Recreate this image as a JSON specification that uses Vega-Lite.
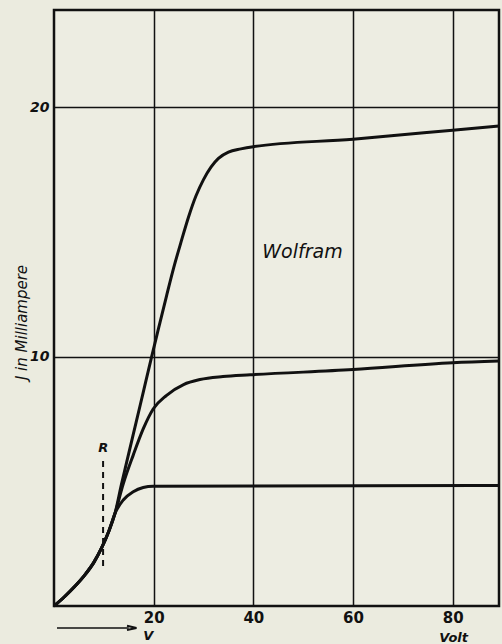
{
  "$schema": "https://vega.github.io/schema/vega-lite/v6.json",
  "width": 445,
  "height": 596,
  "autosize": {"type": "none"},
  "padding": {"left": 54, "top": 10, "right": 3, "bottom": 38},
  "background": "#ebebdf",
  "config": {
    "view": {"stroke": "#111111", "strokeWidth": 2.5, "fill": "#ededE2"},
    "font": "DejaVu Sans"
  },
  "datasets": {
    "curves": [
      {"curve": "Wolfram", "V": 0, "I": 0},
      {"curve": "Wolfram", "V": 2, "I": 0.35},
      {"curve": "Wolfram", "V": 4, "I": 0.75},
      {"curve": "Wolfram", "V": 6, "I": 1.2},
      {"curve": "Wolfram", "V": 8, "I": 1.75},
      {"curve": "Wolfram", "V": 9.6, "I": 2.35},
      {"curve": "Wolfram", "V": 11.0, "I": 3.0},
      {"curve": "Wolfram", "V": 12.25, "I": 3.72},
      {"curve": "Wolfram", "V": 13.5, "I": 4.85},
      {"curve": "Wolfram", "V": 15.0, "I": 6.12},
      {"curve": "Wolfram", "V": 16.5, "I": 7.38},
      {"curve": "Wolfram", "V": 18.0, "I": 8.65},
      {"curve": "Wolfram", "V": 19.6, "I": 10.0},
      {"curve": "Wolfram", "V": 21.0, "I": 11.15},
      {"curve": "Wolfram", "V": 22.6, "I": 12.45},
      {"curve": "Wolfram", "V": 24.0, "I": 13.55},
      {"curve": "Wolfram", "V": 25.5, "I": 14.6},
      {"curve": "Wolfram", "V": 27.0, "I": 15.6},
      {"curve": "Wolfram", "V": 28.5, "I": 16.45},
      {"curve": "Wolfram", "V": 30.0, "I": 17.1},
      {"curve": "Wolfram", "V": 31.5, "I": 17.6},
      {"curve": "Wolfram", "V": 33.0, "I": 17.95},
      {"curve": "Wolfram", "V": 35.0, "I": 18.2},
      {"curve": "Wolfram", "V": 37.5, "I": 18.33},
      {"curve": "Wolfram", "V": 40.0, "I": 18.42},
      {"curve": "Wolfram", "V": 60, "I": 18.72},
      {"curve": "Wolfram", "V": 80, "I": 19.08},
      {"curve": "Wolfram", "V": 89.3, "I": 19.25},

      {"curve": "mittel", "V": 0, "I": 0},
      {"curve": "mittel", "V": 2, "I": 0.35},
      {"curve": "mittel", "V": 4, "I": 0.75},
      {"curve": "mittel", "V": 6, "I": 1.2},
      {"curve": "mittel", "V": 8, "I": 1.75},
      {"curve": "mittel", "V": 9.6, "I": 2.35},
      {"curve": "mittel", "V": 11.0, "I": 3.0},
      {"curve": "mittel", "V": 12.25, "I": 3.72},
      {"curve": "mittel", "V": 13.9, "I": 4.9},
      {"curve": "mittel", "V": 15.9, "I": 6.05},
      {"curve": "mittel", "V": 17.9, "I": 7.1},
      {"curve": "mittel", "V": 19.9, "I": 7.9},
      {"curve": "mittel", "V": 22.6, "I": 8.45},
      {"curve": "mittel", "V": 26.0, "I": 8.88},
      {"curve": "mittel", "V": 29.3, "I": 9.08},
      {"curve": "mittel", "V": 33.9, "I": 9.2},
      {"curve": "mittel", "V": 39.4, "I": 9.27},
      {"curve": "mittel", "V": 60, "I": 9.48},
      {"curve": "mittel", "V": 80, "I": 9.75},
      {"curve": "mittel", "V": 89.3, "I": 9.82},

      {"curve": "unten", "V": 0, "I": 0},
      {"curve": "unten", "V": 2, "I": 0.35},
      {"curve": "unten", "V": 4, "I": 0.75},
      {"curve": "unten", "V": 6, "I": 1.2},
      {"curve": "unten", "V": 8, "I": 1.75},
      {"curve": "unten", "V": 9.6, "I": 2.35},
      {"curve": "unten", "V": 11.0, "I": 3.0},
      {"curve": "unten", "V": 12.25, "I": 3.72},
      {"curve": "unten", "V": 13.9, "I": 4.25},
      {"curve": "unten", "V": 15.9, "I": 4.58},
      {"curve": "unten", "V": 17.9, "I": 4.75},
      {"curve": "unten", "V": 19.9, "I": 4.8},
      {"curve": "unten", "V": 89.3, "I": 4.83}
    ]
  },
  "layer": [
    {
      "data": {"name": "curves"},
      "mark": {"type": "line", "interpolate": "monotone", "color": "#111111", "strokeWidth": 3},
      "encoding": {
        "x": {
          "field": "V", "type": "quantitative",
          "scale": {"domain": [0, 89.3], "nice": false, "zero": false},
          "axis": {
            "values": [20, 40, 60, 80], "title": null, "domain": false, "ticks": false,
            "grid": true, "gridColor": "#111111", "gridWidth": 1.5, "gridOpacity": 1,
            "labelFont": "DejaVu Sans", "labelFontWeight": "bold", "labelFontSize": 15,
            "labelColor": "#111111", "labelPadding": 4
          }
        },
        "y": {
          "field": "I", "type": "quantitative",
          "scale": {"domain": [0, 23.9], "nice": false, "zero": false},
          "axis": {
            "values": [10, 20], "title": "J in Milliampere", "domain": false, "ticks": false,
            "grid": true, "gridColor": "#111111", "gridWidth": 1.5, "gridOpacity": 1,
            "labelFont": "DejaVu Sans", "labelFontWeight": "bold", "labelFontStyle": "italic",
            "labelFontSize": 14, "labelColor": "#111111", "labelPadding": 5,
            "titleFont": "DejaVu Sans", "titleFontStyle": "italic", "titleFontWeight": "normal",
            "titleFontSize": 15, "titleColor": "#111111", "titleAngle": 270,
            "titleX": -33, "titleY": 312, "titleAlign": "center", "titleBaseline": "middle"
          }
        },
        "detail": {"field": "curve"}
      }
    },
    {
      "data": {"values": [{"V": 9.85, "I1": 1.6, "I2": 5.9}]},
      "mark": {"type": "rule", "color": "#111111", "strokeWidth": 2, "strokeDash": [6, 5]},
      "encoding": {
        "x": {"field": "V", "type": "quantitative"},
        "y": {"field": "I1", "type": "quantitative"},
        "y2": {"field": "I2"}
      }
    },
    {
      "data": {"values": [{"V1": 0.6, "V2": 15.0, "I": -0.88}]},
      "mark": {"type": "rule", "color": "#111111", "strokeWidth": 1.5},
      "encoding": {
        "x": {"field": "V1", "type": "quantitative"},
        "x2": {"field": "V2"},
        "y": {"field": "I", "type": "quantitative"}
      }
    },
    {
      "data": {"values": [{"V": 15.6, "I": -0.88}]},
      "mark": {"type": "point", "shape": "M -1 -0.45 L 1 0 L -1 0.45", "filled": false, "size": 90, "color": "#111111", "strokeWidth": 2, "opacity": 1},
      "encoding": {
        "x": {"field": "V", "type": "quantitative"},
        "y": {"field": "I", "type": "quantitative"}
      }
    },
    {
      "data": {"values": [{"V": 41.8, "I": 14.2, "label": "Wolfram"}]},
      "mark": {"type": "text", "align": "left", "baseline": "middle", "font": "DejaVu Sans", "fontStyle": "italic", "fontSize": 19, "color": "#111111"},
      "encoding": {
        "x": {"field": "V", "type": "quantitative"},
        "y": {"field": "I", "type": "quantitative"},
        "text": {"field": "label"}
      }
    },
    {
      "data": {"values": [
        {"V": 9.9, "I": 6.35, "label": "R"},
        {"V": 18.9, "I": -1.2, "label": "V"}
      ]},
      "mark": {"type": "text", "align": "center", "baseline": "middle", "font": "DejaVu Sans", "fontStyle": "italic", "fontWeight": "bold", "fontSize": 13, "color": "#111111"},
      "encoding": {
        "x": {"field": "V", "type": "quantitative"},
        "y": {"field": "I", "type": "quantitative"},
        "text": {"field": "label"}
      }
    },
    {
      "data": {"values": [{"V": 80.2, "I": -1.06, "label": "Volt"}]},
      "mark": {"type": "text", "align": "center", "baseline": "top", "font": "DejaVu Sans", "fontStyle": "italic", "fontWeight": "bold", "fontSize": 13, "color": "#111111"},
      "encoding": {
        "x": {"field": "V", "type": "quantitative"},
        "y": {"field": "I", "type": "quantitative"},
        "text": {"field": "label"}
      }
    }
  ]
}
